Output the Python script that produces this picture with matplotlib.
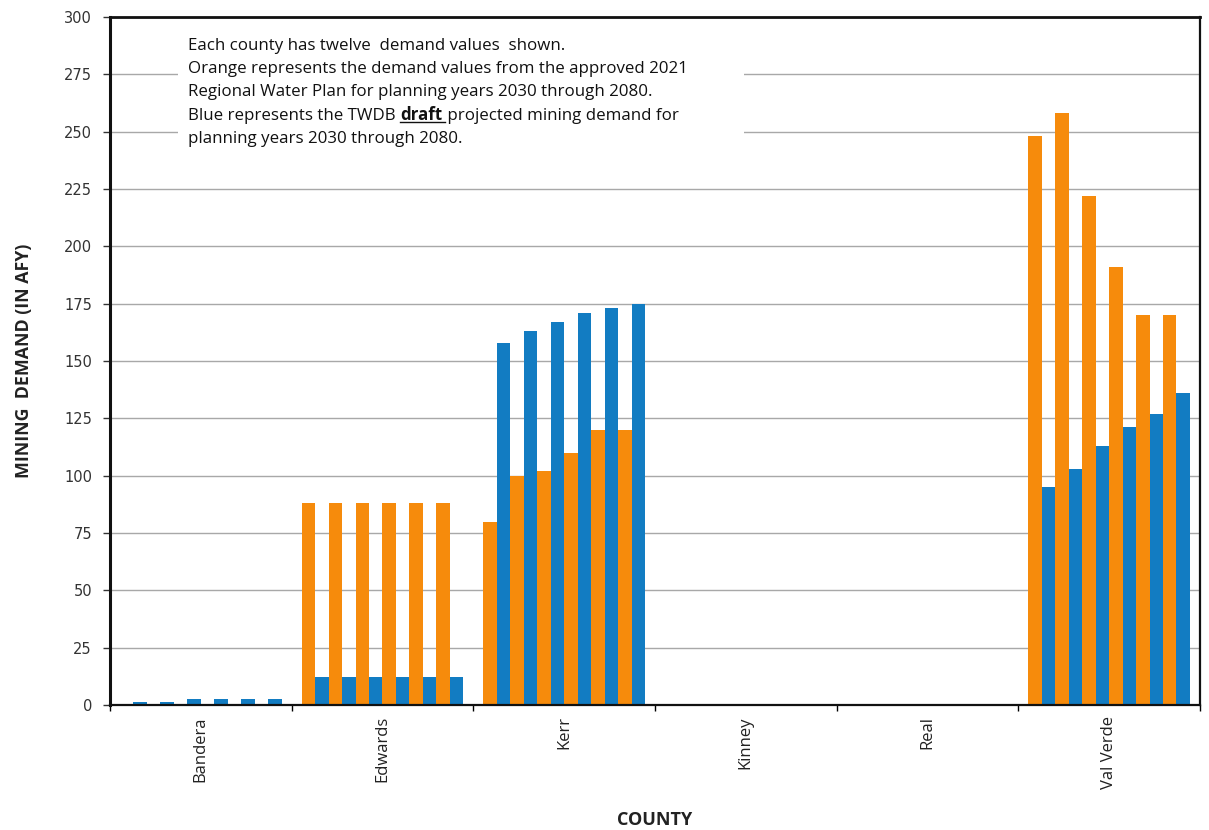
import numpy as np
import matplotlib
matplotlib.use("Agg")
import matplotlib.pyplot as plt
from matplotlib.patches import Rectangle
from matplotlib.lines import Line2D

# datos
counties = ["Bandera", "Edwards", "Kerr", "Kinney", "Real", "Val Verde"]
years = [2030, 2040, 2050, 2060, 2070, 2080]
# 2021 Regional Water Plan (orange)
plan_2021 = {
    "Bandera": [0, 0, 0, 0, 0, 0],
    "Edwards": [88, 88, 88, 88, 88, 88],
    "Kerr": [80, 100, 102, 110, 120, 120],
    "Kinney": [0, 0, 0, 0, 0, 0],
    "Real": [0, 0, 0, 0, 0, 0],
    "Val Verde": [248, 258, 222, 191, 170, 170],
}
# TWDB draft projection (blue)
draft_twdb = {
    "Bandera": [1.5, 1.5, 2.5, 2.5, 2.5, 2.5],
    "Edwards": [12, 12, 12, 12, 12, 12],
    "Kerr": [158, 163, 167, 171, 173, 175],
    "Kinney": [0, 0, 0, 0, 0, 0],
    "Real": [0, 0, 0, 0, 0, 0],
    "Val Verde": [95, 103, 113, 121, 127, 136],
}
yticks = np.arange(0, 301, 25)

orange = "#F68B0C"
blue = "#127CC2"

fig = plt.figure(figsize=(12.09, 8.30), dpi=100)
ax = fig.add_axes([0.091, 0.1506, 0.9015, 0.829])

x = np.arange(len(counties))
w = 0.0742
for k, yr in enumerate(years):
    j_or = 2 * k
    j_bl = 2 * k + 1
    vals_o = [plan_2021[c][k] for c in counties]
    vals_b = [draft_twdb[c][k] for c in counties]
    ax.bar(x + (j_or - 5.5) * w, vals_o, width=w, color=orange, zorder=2, linewidth=0)
    ax.bar(x + (j_bl - 5.5) * w, vals_b, width=w, color=blue, zorder=2, linewidth=0)

ax.set_xlim(-0.5, len(counties) - 0.5)
ax.set_ylim(0, 300)
ax.set_yticks(yticks)
ax.set_yticklabels([str(v) for v in yticks], fontsize=10.5, color="#333333", family="DejaVu Sans")
ax.tick_params(axis="y", direction="out", length=5, width=1, colors="#333333", pad=8)
ax.yaxis.grid(True, color="#A8A8A8", linewidth=1)
ax.set_axisbelow(True)

# ticks en los limites de cada condado
ax.set_xticks(x)
ax.set_xticklabels(counties, rotation=90, fontsize=12, family="Open Sans", color="#222222")
ax.tick_params(axis="x", which="major", length=0, pad=8)
ax.set_xticks(np.arange(-0.5, len(counties)), minor=True)
ax.tick_params(axis="x", which="minor", direction="out", length=4, width=1)

for s in ["left", "right", "bottom", "top"]:
    ax.spines[s].set_color("#111111")
ax.spines["left"].set_linewidth(2.2)
ax.spines["right"].set_linewidth(1.6)
ax.spines["bottom"].set_linewidth(1.6)
ax.spines["top"].set_linewidth(2.0)

ax.set_ylabel("MINING  DEMAND (IN AFY)", fontsize=12.8, fontweight="bold", family="Open Sans",
              color="#222222", labelpad=22)
ax.set_xlabel("COUNTY", fontsize=13, fontweight="bold", family="Open Sans", color="#222222",
              labelpad=16)

# caja de texto
ax.add_patch(Rectangle((0.062, 0.79), 0.52, 0.2, transform=ax.transAxes,
                       facecolor="white", edgecolor="none", zorder=1))

lines = [
    "Each county has twelve  demand values  shown.",
    "Orange represents the demand values from the approved 2021",
    "Regional Water Plan for planning years 2030 through 2080.",
    None,
    "planning years 2030 through 2080.",
]
fs = 12.2
fam = "Open Sans"
y0 = 0.952
dy = 0.0337
for i, t in enumerate(lines):
    if t is not None:
        ax.text(0.072, y0 - i * dy, t, transform=ax.transAxes, fontsize=fs, family=fam,
                color="#111111", va="baseline", zorder=3)

t1 = ax.text(0.072, y0 - 3 * dy, "Blue represents the TWDB ", transform=ax.transAxes,
             fontsize=fs, family=fam, color="#111111", va="baseline", zorder=3)
t2 = ax.annotate("draft", xy=(1, 0), xycoords=t1, fontsize=fs, family=fam,
                 fontweight="bold", color="#111111", va="bottom", zorder=3)
t3 = ax.annotate(" projected mining demand for", xy=(1, 0), xycoords=t2, fontsize=fs,
                 family=fam, color="#111111", va="bottom", zorder=3)

fig.canvas.draw()
bb = t2.get_window_extent()
inv = fig.transFigure.inverted()
(xa, ya), (xb, yb) = inv.transform([(bb.x0, bb.y0 + 2), (bb.x1 + 2, bb.y0 + 2)])
fig.add_artist(Line2D([xa, xb], [ya, yb], color="#111111", linewidth=1))

plt.savefig("out.png", dpi=100)
